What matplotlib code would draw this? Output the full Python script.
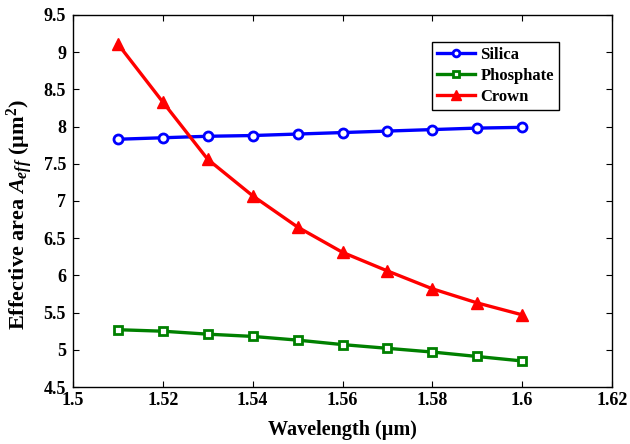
import matplotlib
matplotlib.use("Agg")
import matplotlib.pyplot as plt

wavelength = [1.51, 1.52, 1.53, 1.54, 1.55, 1.56, 1.57, 1.58, 1.59, 1.60]
silica = [7.83, 7.85, 7.87, 7.88, 7.90, 7.92, 7.94, 7.96, 7.98, 7.99]
phosphate = [5.27, 5.25, 5.21, 5.18, 5.13, 5.07, 5.02, 4.97, 4.91, 4.85]
crown = [9.11, 8.33, 7.56, 7.07, 6.65, 6.31, 6.06, 5.82, 5.63, 5.47]

xticks = [1.5, 1.52, 1.54, 1.56, 1.58, 1.6, 1.62]
xticklabels = ["1.5", "1.52", "1.54", "1.56", "1.58", "1.6", "1.62"]
yticks = [4.5, 5, 5.5, 6, 6.5, 7, 7.5, 8, 8.5, 9, 9.5]
yticklabels = ["4.5", "5", "5.5", "6", "6.5", "7", "7.5", "8", "8.5", "9", "9.5"]

plt.rcParams['font.family'] = ['Liberation Serif', 'DejaVu Serif']
plt.rcParams['font.weight'] = 'bold'
plt.rcParams['mathtext.fontset'] = 'custom'
plt.rcParams['mathtext.rm'] = 'Liberation Serif:bold'
plt.rcParams['mathtext.it'] = 'Liberation Serif:italic:bold'
plt.rcParams['mathtext.bf'] = 'Liberation Serif:bold'

fig = plt.figure(figsize=(6.3, 4.44), dpi=100)
ax = fig.add_axes([73/630, 1-387/444, (612-73)/630, (387-15)/444])

ax.plot(wavelength, silica, color='#0000ff', lw=2.4, marker='o', ms=6.5,
        mfc='white', mec='#0000ff', mew=2.0, label='Silica')
ax.plot(wavelength, phosphate, color='#008000', lw=2.4, marker='s', ms=6,
        mfc='white', mec='#008000', mew=2.0, label='Phosphate')
ax.plot(wavelength, crown, color='#ff0000', lw=2.4, marker='^', ms=9,
        mfc='#ff0000', mec='#ff0000', label='Crown')

ax.set_xlim(1.5, 1.62)
ax.set_ylim(4.5, 9.5)
ax.set_xticks(xticks)
ax.set_xticklabels(xticklabels)
ax.set_yticks(yticks)
ax.set_yticklabels(yticklabels)
ax.tick_params(direction='in', top=True, right=True, labelsize=13, length=4, width=0.8)
ax.tick_params(axis='y', pad=5)
for lab in ax.get_xticklabels() + ax.get_yticklabels():
    lab.set_fontweight('bold')
for s in ax.spines.values():
    s.set_linewidth(1.0)

ax.set_xlabel('Wavelength (µm)', fontsize=14.5, fontweight='bold', labelpad=8)
ax.set_ylabel(r'Effective area $A_{eff}$ (µm$^2$)', fontsize=16, fontweight='bold')
ax.yaxis.set_label_coords((35-73)/539, (387-214)/372)

leg = ax.legend(loc='upper left', bbox_to_anchor=((432-73)/539, 1-(42-15)/372),
                borderaxespad=0,
                prop={'family': 'Liberation Serif', 'weight': 'bold', 'size': 12},
                frameon=True, fancybox=False, edgecolor='black', framealpha=1,
                handlelength=2.3, borderpad=0.3, labelspacing=0.3, handletextpad=0.3,
                markerscale=0.75)
leg.get_frame().set_linewidth(1.0)

fig.savefig('out.png', dpi=100)
